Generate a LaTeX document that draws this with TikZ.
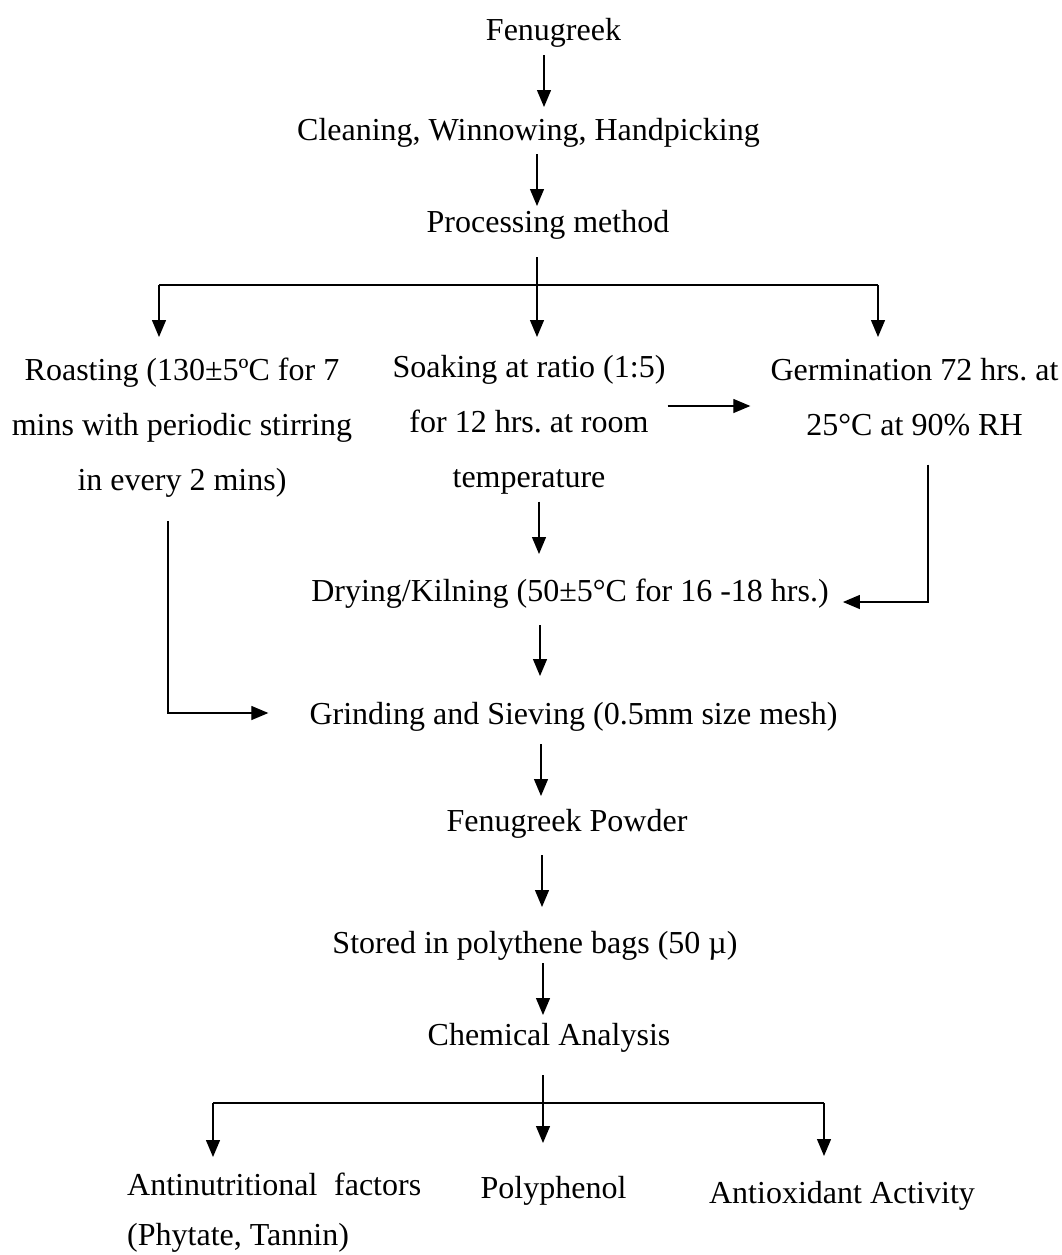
\documentclass[tikz,border=0pt]{standalone}
\usepackage{fontspec}
\setmainfont{Liberation Serif}
\usetikzlibrary{arrows.meta,calc}
\frenchspacing
\begin{document}
\begin{tikzpicture}[x=1pt,y=-1pt,
  txt/.style={inner sep=0pt, anchor=north, align=center,
    font=\fontsize{32}{55}\selectfont\frenchspacing,
    execute at begin node={\rule{0pt}{24pt}},
    execute at end node={\rule[-9pt]{0pt}{9pt}}},
  conn/.style={line width=1.3pt},
  arr/.style={line width=1.3pt, -{Triangle[length=17pt,width=14pt]}}]
\useasboundingbox (0,0) rectangle (1062,1255);

% text nodes (x = centre, y = top of first line)
\node[txt] (fen)    at (553.5,16.7) {Fenugreek};
\node[txt] (clean)  at (528.5,116)  {Cleaning, Winnowing, Handpicking};
\node[txt] (proc)   at (548,208)    {Processing method};
\node[txt] (roast)  at (182,358)    {Roasting (130±5ºC for 7\\mins with periodic stirring\\in every 2 mins)};
\node[txt] (soak)   at (529,355)    {Soaking at ratio (1:5)\\for 12 hrs. at room\\temperature};
\node[txt] (germ)   at (914.5,358)  {Germination 72 hrs. at\\25°C at 90\% RH};
\node[txt] (dry)    at (570,577)    {Drying/Kilning (50±5°C for 16 -18 hrs.)};
\node[txt] (grind)  at (573.5,700)  {Grinding and Sieving (0.5mm size mesh)};
\node[txt] (powder) at (567,807)    {Fenugreek Powder};
\node[txt] (stored) at (535,929)    {Stored in polythene bags (50 µ)};
\node[txt] (chem)   at (549,1021)   {Chemical Analysis};
\node[txt, anchor=north west, align=left] (anti) at (127,1173)
  {\makebox[294pt][s]{Antinutritional factors}\\[-5pt](Phytate, Tannin)};
\node[txt] (poly)   at (553.5,1174) {Polyphenol};
\node[txt] (antiox) at (842,1179)   {Antioxidant Activity};

% helper coordinates for connector lines
\coordinate (x1) at (544,0);
\coordinate (x2) at (537,0);
\coordinate (split) at (537,285);
\coordinate (brL) at (159,285);
\coordinate (brR) at (878,285);
\coordinate (hs) at (0,406);
\coordinate (x5) at (539,0);
\coordinate (gd) at (928,602);
\coordinate (rg) at (168,713);
\coordinate (x8) at (540,0);
\coordinate (x9) at (541,0);
\coordinate (x10) at (542,0);
\coordinate (x11) at (543,0);
\coordinate (csplit) at (543,1103);
\coordinate (cbL) at (213,1103);
\coordinate (cbR) at (824,1103);

% connectors
\draw[arr, shorten <=5.3pt, shorten >=9pt] (fen.south -| x1) -- (clean.north -| x1);
\draw[arr, shorten <=5pt, shorten >=2pt] (clean.south -| x2) -- (proc.north -| x2);

\draw[conn, shorten <=16pt] (proc.south -| split) -- (split);
\draw[conn] (brL) -- (brR);
\draw[arr, shorten >=18pt] (split) -- (soak.north -| split);
\draw[arr, shorten >=21pt] (brL) -- (roast.north -| brL);
\draw[arr, shorten >=21pt] (brR) -- (germ.north -| brR);

\draw[arr, shorten <=2pt, shorten >=20pt] (soak.east |- hs) -- (germ.west |- hs);
\draw[arr, shorten <=5pt, shorten >=23pt] (soak.south -| x5) -- (dry.north -| x5);
\draw[arr, shorten <=20pt] (germ.south -| gd) -- (gd) -- ([xshift=14pt]dry.east |- gd);
\draw[arr, shorten <=21pt] (roast.south -| rg) -- (rg) -- ([xshift=-41pt]grind.west |- rg);

\draw[arr, shorten <=15pt, shorten >=24pt] (dry.south -| x8) -- (grind.north -| x8);
\draw[arr, shorten <=11pt, shorten >=11pt] (grind.south -| x9) -- (powder.north -| x9);
\draw[arr, shorten <=15pt, shorten >=22pt] (powder.south -| x10) -- (stored.north -| x10);
\draw[arr, shorten <=1pt, shorten >=6pt] (stored.south -| x11) -- (chem.north -| x11);

\draw[conn, shorten <=21pt] (chem.south -| csplit) -- (csplit);
\draw[conn] (cbL) -- (cbR);
\draw[arr, shorten >=31pt] (csplit) -- (poly.north -| csplit);
\draw[arr, shorten >=16pt] (cbL) -- (anti.north -| cbL);
\draw[arr, shorten >=23pt] (cbR) -- (antiox.north -| cbR);
\end{tikzpicture}
\end{document}
